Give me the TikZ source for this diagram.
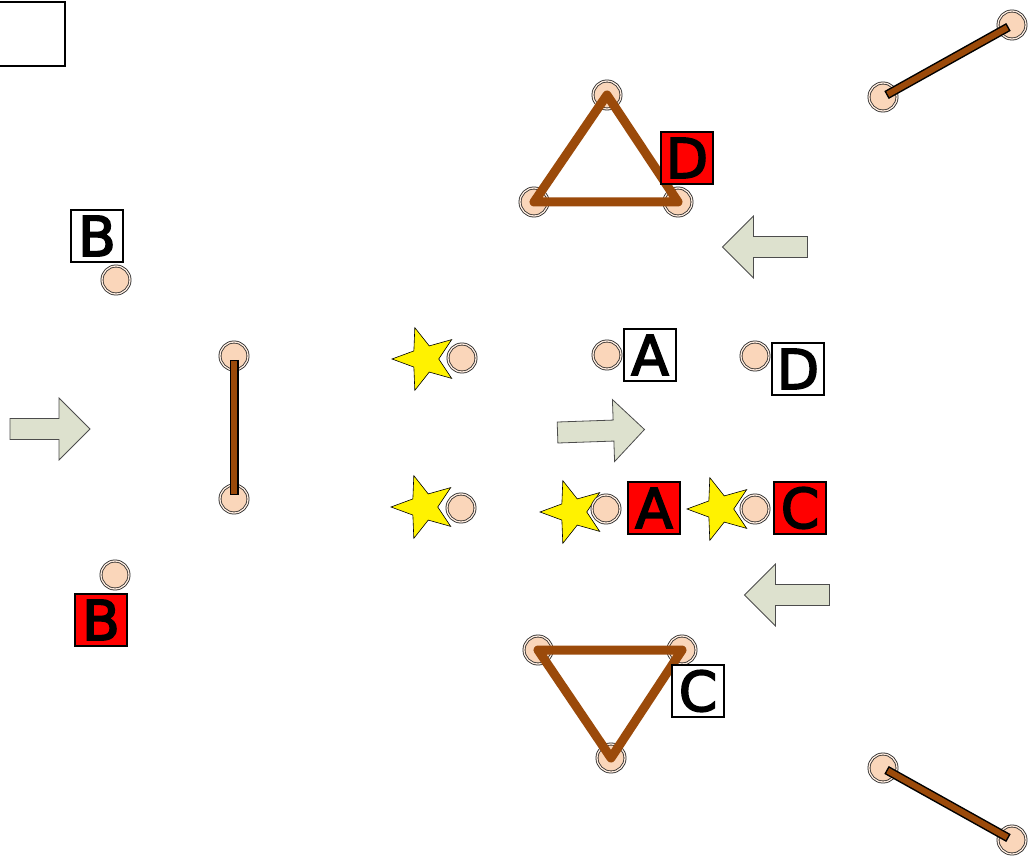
\documentclass[tikz,border=0pt]{standalone}
\usepackage{fontspec}
\setsansfont{DejaVu Sans}
\newfontfamily\tagfont[FakeBold=3]{DejaVu Sans}
\usepackage{xcolor}
\usetikzlibrary{shapes.geometric}

\definecolor{peach}{RGB}{250,214,186}
\definecolor{ropebrown}{RGB}{155,74,10}
\definecolor{arrowgrey}{RGB}{221,225,206}

\tikzset{
  player/.style={circle, draw=black!85, line width=0.8pt, double=peach!50!white, double distance=1.3pt,
    fill=peach, minimum size=28pt, inner sep=0pt},
  tagw/.style={draw=black, line width=1.5pt, fill=white, minimum size=52pt, inner sep=0pt,
    font=\tagfont\fontsize{55}{55}\selectfont},
  tagr/.style={tagw, fill=red},
  starmark/.style={star, star points=5, star point ratio=2.4, draw=black, line width=0.6pt,
    fill=yellow, minimum size=66pt, inner sep=0pt, rotate=18},
  rope/.style={ropebrown, line width=9pt, line join=round},
  barout/.style={black, line width=9pt, shorten <=4pt, shorten >=4pt},
  barin/.style={ropebrown, line width=6pt, shorten <=5.5pt, shorten >=5.5pt},
  pics/movearrow/.style={code={
    \filldraw[fill=arrowgrey, draw=black!70, line width=0.8pt]
      ({-#1/2},-10.5) -- ({#1/2-31},-10.5) -- ({#1/2-31},-31) -- ({#1/2},0)
      -- ({#1/2-31},31) -- ({#1/2-31},10.5) -- ({-#1/2},10.5) -- cycle;
  }}
}

\begin{document}
\begin{tikzpicture}[x=1pt, y=-1pt]
\useasboundingbox (0,0) rectangle (1028,858);

% empty box in the corner
\node[draw, line width=1.5pt, minimum width=80pt, minimum height=64pt, inner sep=0pt] (corner) at (25,34) {};

% stars under the players
\node[starmark] (st1) at (425,359) {};
\node[starmark] (st2) at (424,507) {};
\node[starmark] (st3) at (573,512) {};
\node[starmark] (st4) at (720,509) {};

% players
\node[player] (t1) at (607,95) {};
\node[player] (t2) at (534,202) {};
\node[player] (t3) at (678,202) {};
\node[player] (r1) at (883,97) {};
\node[player] (r2) at (1012,25) {};
\node[player] (b1) at (116,280) {};
\node[player] (v1) at (234,356) {};
\node[player] (v2) at (234,499) {};
\node[player] (s1) at (462,358) {};
\node[player] (s2) at (461,508) {};
\node[player] (a1) at (607,355) {};
\node[player] (d1) at (755,356) {};
\node[player] (a2) at (606,509) {};
\node[player] (c2) at (755,509) {};
\node[player] (b2) at (115,575) {};
\node[player] (u1) at (538,650) {};
\node[player] (u2) at (682,650) {};
\node[player] (u3) at (611,758) {};
\node[player] (q1) at (883,768) {};
\node[player] (q2) at (1012,840) {};

% ropes and bars
\draw[rope] (t1.center) -- (t2.center) -- (t3.center) -- cycle;
\draw[rope] (u1.center) -- (u2.center) -- (u3.center) -- cycle;
\foreach \p/\q in {v1/v2, r1/r2, q1/q2} {
  \draw[barout] (\p.center) -- (\q.center);
  \draw[barin] (\p.center) -- (\q.center);
}

% direction arrows
\pic at (50,429) {movearrow=80};
\pic[rotate=2] at (601,431) {movearrow=87};
\pic[rotate=180] at (765,247) {movearrow=85};
\pic[rotate=180] at (787,595) {movearrow=85};

% letter tags
\node[tagr] (lD) at (687,158) {D};
\node[tagw] (lB) at (97,236) {B};
\node[tagw] (lA) at (650,355) {A};
\node[tagw] (lD2) at (798,369) {D};
\node[tagr] (lA2) at (654,508) {A};
\node[tagr] (lC) at (800,508) {C};
\node[tagr] (lB2) at (101,620) {B};
\node[tagw] (lC2) at (698,691) {C};
\end{tikzpicture}
\end{document}
